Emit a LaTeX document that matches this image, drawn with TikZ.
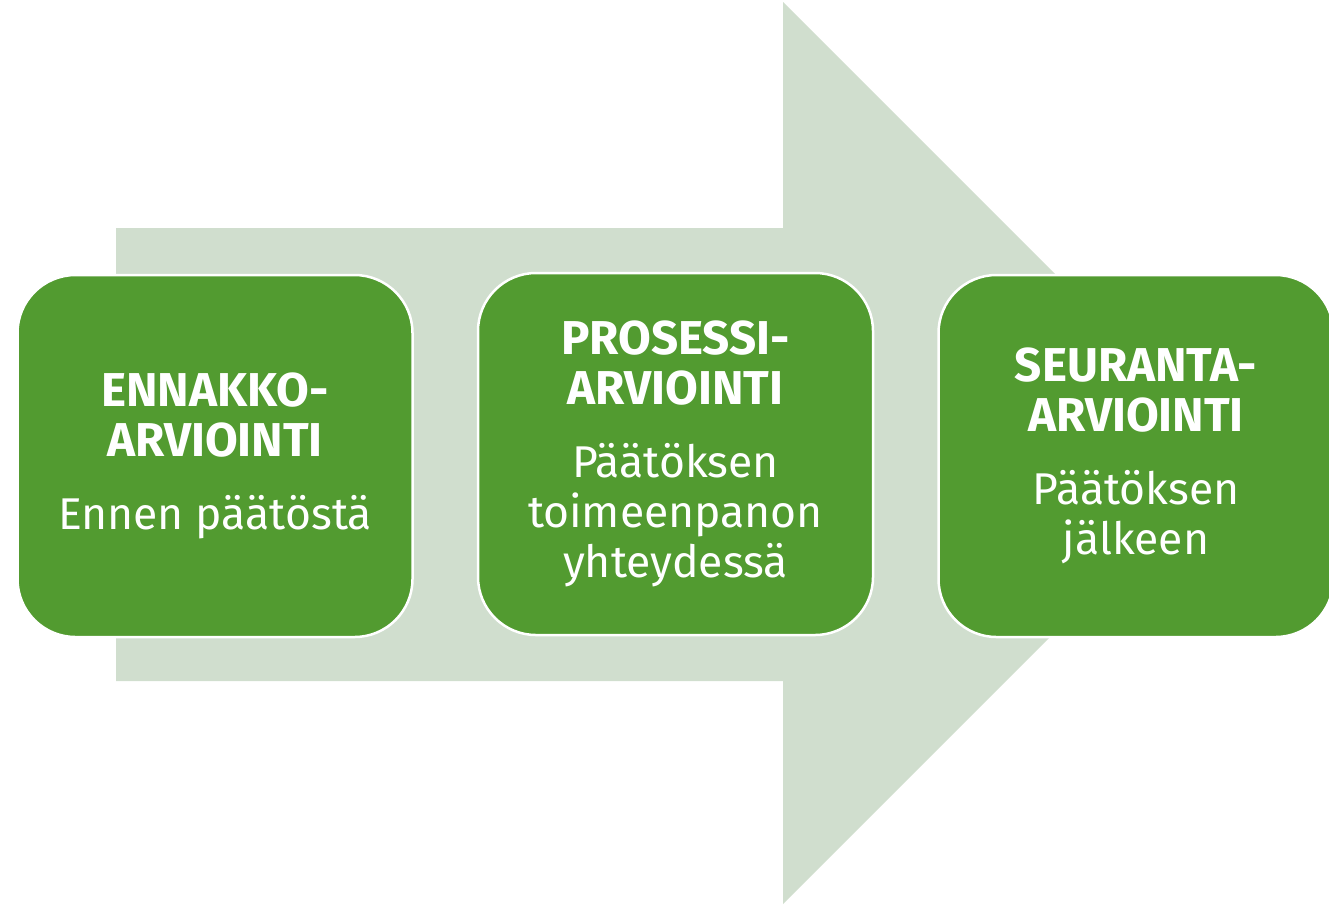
\documentclass[tikz,border=0pt]{standalone}
\usepackage{fontspec}
\setmainfont{Fira Sans}
\definecolor{arrowgreen}{HTML}{D0DECE}
\definecolor{boxgreen}{HTML}{529B30}
\newcommand\hdline[1]{{\fontsize{47.5}{50}\selectfont\bfseries #1}}
\tikzset{
  phasebox/.style={rectangle, rounded corners=58pt, fill=boxgreen, draw=white,
    line width=2.5pt, minimum width=395pt, minimum height=362pt,
    text=white, align=center, inner sep=0pt,
    font=\fontsize{44.5}{50}\selectfont},
}
\begin{document}
\begin{tikzpicture}[x=1pt,y=-1pt]
\useasboundingbox (0,0) rectangle (1329,906);
\clip (0,0) rectangle (1329,906);
\fill[arrowgreen] (116,228) -- (783,228) -- (783,2) -- (1234,453) -- (783,904) -- (783,681) -- (116,681) -- cycle;
\node[phasebox] (b1) at (215,456) {\hdline{ENNAKKO-}\\\hdline{ARVIOINTI}\\[23pt]Ennen päätöstä};
\node[phasebox] (b2) at (675.5,454) {\hdline{PROSESSI-}\\\hdline{ARVIOINTI}\\[23pt]Päätöksen\\toimeenpanon\\yhteydessä};
\node[phasebox] (b3) at (1136,456) {\hdline{SEURANTA-}\\\hdline{ARVIOINTI}\\[23pt]Päätöksen\\jälkeen};
\end{tikzpicture}
\end{document}
